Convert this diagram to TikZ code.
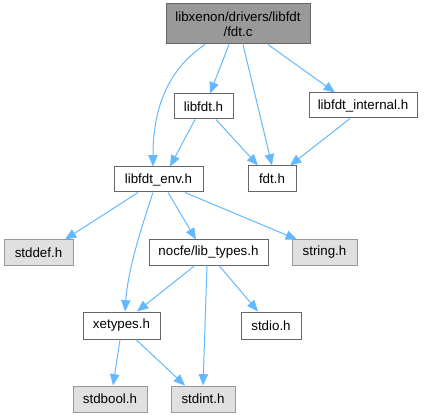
\documentclass[tikz,border=0pt]{standalone}
\usepackage{fontspec}
\setmainfont{Liberation Sans}
\usetikzlibrary{arrows.meta}
\newdimen\px \px=0.75pt
\definecolor{edgeblue}{HTML}{63B8FF}
\definecolor{darkborder}{HTML}{666666}
\definecolor{lightborder}{HTML}{999999}
\definecolor{lightfill}{HTML}{E0E0E0}
\definecolor{rootfill}{HTML}{999999}
\tikzset{
  box/.style={draw, line width=0.75pt, inner sep=0pt, font=\fontsize{10}{11.5}\selectfont, minimum height=25\px},
  wbox/.style={box, draw=darkborder, fill=white},
  gbox/.style={box, draw=lightborder, fill=lightfill},
  rbox/.style={box, draw=darkborder, fill=rootfill, align=center},
  edge/.style={draw=edgeblue, line width=0.75pt, -{Triangle[length=8.5pt,width=7pt]}, color=edgeblue}
}
\begin{document}
\begin{tikzpicture}[x=0.75pt, y=-0.75pt]
\useasboundingbox (0,0) rectangle (425,417);
% nodes
\node[rbox, minimum width=144\px, minimum height=40\px] (root) at (238,24) {libxenon/drivers/libfdt\\/fdt.c};
\node[wbox, minimum width=59\px] (libfdt) at (203.5,106.5) {libfdt.h};
\node[wbox, minimum width=108\px] (internal) at (363,105.5) {libfdt\_internal.h};
\node[wbox, minimum width=48\px, minimum height=26\px] (fdt) at (272,179) {fdt.h};
\node[wbox, minimum width=89\px] (env) at (158.5,179.5) {libfdt\_env.h};
\node[gbox, minimum width=69\px] (stddef) at (38.5,252.5) {stddef.h};
\node[wbox, minimum width=119\px] (nocfe) at (208.5,252.5) {nocfe/lib\_types.h};
\node[gbox, minimum width=65\px] (string) at (324.5,252.5) {string.h};
\node[wbox, minimum width=77\px, minimum height=27\px] (xetypes) at (121.5,325.5) {xetypes.h};
\node[wbox, minimum width=60\px, minimum height=27\px] (stdio) at (271,325.5) {stdio.h};
\node[gbox, minimum width=74\px, minimum height=26\px] (stdbool) at (110,399) {stdbool.h};
\node[gbox, minimum width=64\px, minimum height=26\px] (stdint) at (203,399) {stdint.h};
% edges
\draw[edge] ([xshift=-33\px]root.south) .. controls (170,68) and (153,105) .. ([xshift=-5.5\px]env.north);
\draw[edge] ([xshift=-9\px]root.south) -- ([xshift=6.5\px]libfdt.north);
\draw[edge] ([xshift=5\px]root.south) -- (fdt.north);
\draw[edge] ([xshift=30\px]root.south) -- ([xshift=-28\px]internal.north);
\draw[edge] ([xshift=-8.5\px]libfdt.south) -- ([xshift=11.5\px]env.north);
\draw[edge] ([xshift=12.5\px]libfdt.south) -- ([xshift=-14\px]fdt.north);
\draw[edge] ([xshift=-13\px]internal.south) -- ([xshift=18\px]fdt.north);
\draw[edge] ([xshift=-20.5\px]env.south) -- ([xshift=26.5\px]stddef.north);
\draw[edge] ([xshift=9.5\px]env.south) -- ([xshift=-12.5\px]nocfe.north);
\draw[edge] ([xshift=26.5\px]env.south) -- ([xshift=-27.5\px]string.north);
\draw[edge] ([xshift=-5.5\px]env.south) .. controls (140,232) and (128,270) .. ([xshift=3.5\px]xetypes.north);
\draw[edge] ([xshift=-13.5\px]nocfe.south) -- ([xshift=15.5\px]xetypes.north);
\draw[edge] ([xshift=-1.5\px]nocfe.south) -- (stdint.north);
\draw[edge] ([xshift=10.5\px]nocfe.south) -- ([xshift=-13\px]stdio.north);
\draw[edge] ([xshift=-1.5\px]xetypes.south) -- ([xshift=3\px]stdbool.north);
\draw[edge] ([xshift=14.5\px]xetypes.south) -- ([xshift=-18\px]stdint.north);
\end{tikzpicture}
\end{document}
